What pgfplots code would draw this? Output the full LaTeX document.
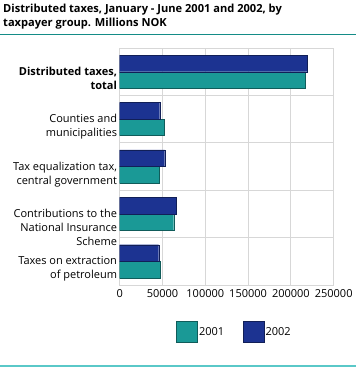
\documentclass[border=0pt]{standalone}
\usepackage{fontspec}
\setmainfont{Open Sans}
\usepackage{pgfplots}
\pgfplotsset{compat=1.18}
\definecolor{sbteal}{RGB}{26,153,150}
\definecolor{sbblue}{RGB}{28,51,145}
\definecolor{ruleteal}{RGB}{20,140,135}
\definecolor{rulelight}{RGB}{90,200,200}
\definecolor{gridgray}{RGB}{215,215,215}
\begin{document}
\begin{tikzpicture}
\begin{axis}[
  scale only axis, width=214pt, height=237pt,
  xbar, y dir=reverse,
  xmin=0, xmax=250000,
  ymin=-0.5, ymax=4.5,
  bar width=0.35,
  xtick={0,50000,100000,150000,200000,250000},
  xticklabels={0,50000,100000,150000,200000,250000},
  scaled x ticks=false,
  xticklabel style={font=\fontsize{11}{12}\selectfont, yshift=-1pt},
  ytick={0,1,2,3,4},
  yticklabels={{\bfseries Distributed taxes,\\\bfseries total},{Counties and\\municipalities},{Tax equalization tax,\\central government},{Contributions to the\\National Insurance\\Scheme},{Taxes on extraction\\of petroleum}},
  yticklabel style={align=right, anchor=north east, yshift=6pt, font=\fontsize{11}{14}\selectfont, inner sep=1pt, xshift=-1.5pt},
  major tick length=0pt, minor tick length=0pt,
  xmajorgrids, major grid style={gridgray, line width=0.8pt},
  minor ytick={0.5,1.5,2.5,3.5},
  yminorgrids, minor grid style={gridgray, line width=1.2pt},
  axis line style={gridgray, line width=0.8pt},
  legend style={at={(0.535,-0.197)}, anchor=center, draw=none, legend columns=2,
    font=\fontsize{11}{12}\selectfont, column sep=17pt,
    /tikz/every odd column/.style={column sep=0pt},
    nodes={inner sep=1.5pt}},
  legend image code/.code={\draw[#1] (0pt,-10pt) rectangle (21pt,11pt);},
]
\addplot[fill=sbteal, draw=sbteal!60!black, bar shift=0.175] coordinates {
 (216900,0) (51800,1) (45900,2) (63100,3) (47500,4)};
\addplot[fill=sbblue, draw=sbblue!60!black, bar shift=-0.175] coordinates {
 (218900,0) (46750,1) (52600,2) (66200,3) (45600,4)};
\legend{2001,2002}
\coordinate (O) at (axis cs:0,4.5);
\end{axis}
\begin{scope}[shift={(O)}, xshift=-119.7pt, yshift=-83pt, x=1pt, y=1pt]
\path[use as bounding box] (0,0) rectangle (356,368);
\node[anchor=north west, align=left, font=\bfseries\fontsize{11.1}{14}\selectfont, inner sep=0pt] at (3,364) {Distributed taxes, January - June 2001 and 2002, by\\taxpayer group. Millions NOK};
\draw[ruleteal, line width=1pt] (0,334) -- (356,334);
\draw[rulelight, line width=1.2pt] (0,2) -- (356,2);
\end{scope}
\end{tikzpicture}
\end{document}
